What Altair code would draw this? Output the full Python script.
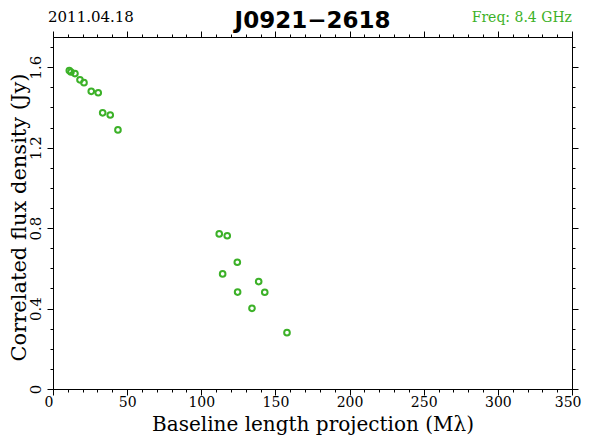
import altair as alt
import pandas as pd

# Data
baseline = [11.0, 12.1, 14.8, 18.2, 20.9, 25.8, 30.5, 33.5, 38.6, 43.8,
            112.1, 117.5, 124.3, 114.4, 138.7, 124.5, 142.8, 134.2, 157.8]
flux = [1.583, 1.576, 1.568, 1.537, 1.523, 1.480, 1.473, 1.373, 1.362, 1.288,
        0.771, 0.762, 0.630, 0.572, 0.534, 0.482, 0.481, 0.401, 0.280]

x_major = [0, 50, 100, 150, 200, 250, 300, 350]
x_minor = list(range(0, 351, 10))
y_major = [0, 0.4, 0.8, 1.2, 1.6]
y_minor = [round(i * 0.1, 1) for i in range(0, 18)]

date_text = ["2011.04.18"]
title_text = ["J0921\u22122618"]
freq_text = ["Freq: 8.4 GHz"]

df = pd.DataFrame({"b": baseline, "f": flux})

XD = [0, 350]
YD = [0, 1.75]
W, H = 519, 352
GREEN = "#3cb128"
FONT = "DejaVu Serif"


def xs():
    return alt.Scale(domain=XD, nice=False, zero=False)


def ys():
    return alt.Scale(domain=YD, nice=False, zero=False)


common = dict(grid=False, tickColor="black", domainColor="black",
              labelColor="black", labelFont=FONT, labelFontSize=15,
              titleFont=FONT, titleFontSize=21, titleFontWeight="normal",
              titleColor="black")

xcommon = dict(common, labelFontSize=14, titleFontSize=20)

points = alt.Chart(df).mark_point(
    shape="circle", filled=False, color=GREEN, size=32, strokeWidth=2, opacity=1
).encode(
    x=alt.X("b:Q", scale=xs(), axis=alt.Axis(
        orient="bottom", values=x_major, tickSize=6, labelPadding=0,
        labelFlush=True, labelFlushOffset=9,
        title="Baseline length projection (M\u03bb)",
        titleBaseline="alphabetic", titleAlign="center",
        titleX=W / 2, titleY=41, **xcommon)),
    y=alt.Y("f:Q", scale=ys(), axis=alt.Axis(
        orient="left", values=y_major, tickSize=6, format=".1~f",
        labelAngle=-90, labelAlign="center", labelBaseline="bottom",
        labelPadding=4, labelFlush=False,
        title="Correlated flux density (Jy)",
        titleBaseline="alphabetic", titleAlign="center", titleAngle=-90,
        titleX=-28, titleY=H / 2 + 4, **common)),
)

minor_bl = alt.Chart(df).mark_point(opacity=0).encode(
    x=alt.X("b:Q", scale=xs(), axis=alt.Axis(
        orient="bottom", values=x_minor, tickSize=3, labels=False,
        domain=False, title=None, grid=False, tickColor="black")),
    y=alt.Y("f:Q", scale=ys(), axis=alt.Axis(
        orient="left", values=y_minor, tickSize=3, labels=False,
        domain=False, title=None, grid=False, tickColor="black")),
)

major_tr = alt.Chart(df).mark_point(opacity=0).encode(
    x=alt.X("b:Q", scale=xs(), axis=alt.Axis(
        orient="top", values=x_major, tickSize=6, labels=False,
        title=None, grid=False, tickColor="black", domainColor="black")),
    y=alt.Y("f:Q", scale=ys(), axis=alt.Axis(
        orient="right", values=y_major, tickSize=6, labels=False,
        title=None, grid=False, tickColor="black", domainColor="black")),
)

minor_tr = alt.Chart(df).mark_point(opacity=0).encode(
    x=alt.X("b:Q", scale=xs(), axis=alt.Axis(
        orient="top", values=x_minor, tickSize=3, labels=False,
        domain=False, title=None, grid=False, tickColor="black")),
    y=alt.Y("f:Q", scale=ys(), axis=alt.Axis(
        orient="right", values=y_minor, tickSize=3, labels=False,
        domain=False, title=None, grid=False, tickColor="black")),
)

date_mark = alt.Chart(pd.DataFrame({"t": date_text})).mark_text(
    align="left", baseline="alphabetic", font=FONT, fontSize=15, color="black"
).encode(text="t:N", x=alt.value(-5), y=alt.value(-15))

title_mark = alt.Chart(pd.DataFrame({"t": title_text})).mark_text(
    align="center", baseline="alphabetic", font="DejaVu Sans",
    fontSize=23, fontWeight="bold", color="black"
).encode(text="t:N", x=alt.value(W / 2), y=alt.value(-9))

freq_mark = alt.Chart(pd.DataFrame({"t": freq_text})).mark_text(
    align="right", baseline="alphabetic", font=FONT, fontSize=14, color=GREEN
).encode(text="t:N", x=alt.value(W), y=alt.value(-15))

chart = alt.layer(
    points, minor_bl, major_tr, minor_tr, date_mark, title_mark, freq_mark
).resolve_scale(x="independent", y="independent").properties(
    width=W, height=H,
    autosize=alt.AutoSizeParams(type="none"),
    padding={"left": 45, "top": 29, "right": 10, "bottom": 46},
    background="white",
).configure_view(stroke=None)

chart.save("out.html", embed_options={"renderer": "svg", "actions": False})
